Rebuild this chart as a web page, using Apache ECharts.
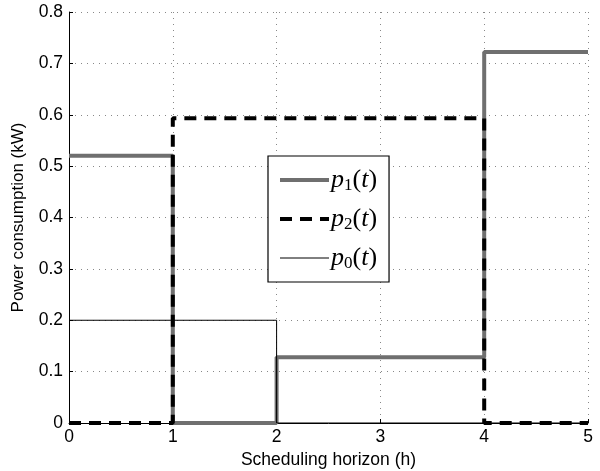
<!DOCTYPE html>
<html><head><meta charset="utf-8">
<script src="https://cdn.jsdelivr.net/npm/echarts@6/dist/echarts.min.js"></script>
<style>html,body{margin:0;padding:0;background:#fff}#c{width:600px;height:471px}</style>
</head><body><div id="c"></div>
<script>
// step breakpoints (h) and levels (kW) for each interval
const p1Breaks = [0, 1, 2, 4, 5];
const p1Levels = [0.52, 0, 0.128, 0.722];
const p2Breaks = [0, 1, 4, 5];
const p2Levels = [0, 0.593, 0];
const p0Breaks = [0, 2, 5];
const p0Levels = [0.2, 0];
const xTicks = [0, 1, 2, 3, 4, 5];
const yTicks = [0, 0.1, 0.2, 0.3, 0.4, 0.5, 0.6, 0.7, 0.8];

function stepPts(b, l) {
  const pts = [];
  for (let i = 0; i < l.length; i++) {
    pts.push([b[i], l[i]]);
    pts.push([b[i + 1], l[i]]);
  }
  return pts;
}
const rich = {
  i: {fontFamily: 'Liberation Serif', fontStyle: 'italic', fontSize: 26, color: '#000'},
  r: {fontFamily: 'Liberation Serif', fontSize: 26, color: '#000'},
  s: {fontFamily: 'Liberation Serif', fontSize: 17, color: '#000', verticalAlign: 'bottom', padding: [11, 0, 0, 0]}
};
const chart = echarts.init(document.getElementById('c'));
chart.setOption({
  animation: false,
  grid: {left: 69, right: 12, top: 12, bottom: 48, outerBoundsMode: 'none', containLabel: false},
  xAxis: {
    type: 'value', min: 0, max: 5, interval: 1,
    name: 'Scheduling horizon (h)', nameLocation: 'middle', nameGap: 25,
    nameTextStyle: {fontFamily: 'Liberation Sans', fontSize: 17.5, color: '#000'},
    axisLine: {show: true, onZero: false, lineStyle: {color: '#000', width: 1}},
    axisTick: {show: true, inside: true, length: 4, lineStyle: {color: '#000'}},
    axisLabel: {fontFamily: 'Liberation Sans', fontSize: 17.5, color: '#000', margin: 5,
      formatter: v => xTicks.includes(v) ? String(v) : ''},
    splitLine: {show: true, lineStyle: {type: [1, 5], color: '#888', width: 1}}
  },
  yAxis: {
    type: 'value', min: 0, max: 0.8, interval: 0.1,
    name: 'Power consumption (kW)', nameLocation: 'middle', nameGap: 42,
    nameTextStyle: {fontFamily: 'Liberation Sans', fontSize: 17, color: '#000'},
    axisLine: {show: true, lineStyle: {color: '#000', width: 1}},
    axisTick: {show: true, inside: true, length: 4, lineStyle: {color: '#000'}},
    axisLabel: {fontFamily: 'Liberation Sans', fontSize: 17.5, color: '#000', margin: 6,
      formatter: v => { const t = yTicks.find(y => Math.abs(y - v) < 1e-9); return t === undefined ? '' : (t === 0 ? '0' : t.toFixed(1)); }},
    splitLine: {show: true, lineStyle: {type: [1, 5], color: '#888', width: 1}}
  },
  legend: {
    left: 268, top: 156, orient: 'vertical',
    padding: [11, 12, 10, 10],
    itemWidth: 49, itemHeight: 16, itemGap: 12,
    borderColor: '#000', borderWidth: 1.2, backgroundColor: '#fff',
    itemStyle: {opacity: 0},
    textStyle: {rich: rich, padding: [0, 0, 0, -3]},
    formatter: name => {
      const k = name.replace('p', '');
      return '{i|p}{s|' + k + '}{r|(}{i|t}{r|)}';
    },
    data: [
      {name: 'p1', lineStyle: {width: 4, color: '#6f6f6f'}},
      {name: 'p2', lineStyle: {width: 4, color: '#000', type: [12, 8]}},
      {name: 'p0', lineStyle: {width: 1, color: '#000'}}
    ]
  },
  series: [
    {name: 'p1', type: 'line', data: stepPts(p1Breaks, p1Levels), showSymbol: false, symbol: 'none',
      lineStyle: {color: '#6f6f6f', width: 4}, itemStyle: {color: '#6f6f6f'}, z: 2},
    {name: 'p2', type: 'line', data: stepPts(p2Breaks, p2Levels), showSymbol: false, symbol: 'none',
      lineStyle: {color: '#000', width: 4, type: [12, 8]}, itemStyle: {color: '#000'}, z: 3},
    {name: 'p0', type: 'line', data: stepPts(p0Breaks, p0Levels), showSymbol: false, symbol: 'none',
      lineStyle: {color: '#000', width: 1}, itemStyle: {color: '#000'}, z: 4}
  ]
});
</script></body></html>
